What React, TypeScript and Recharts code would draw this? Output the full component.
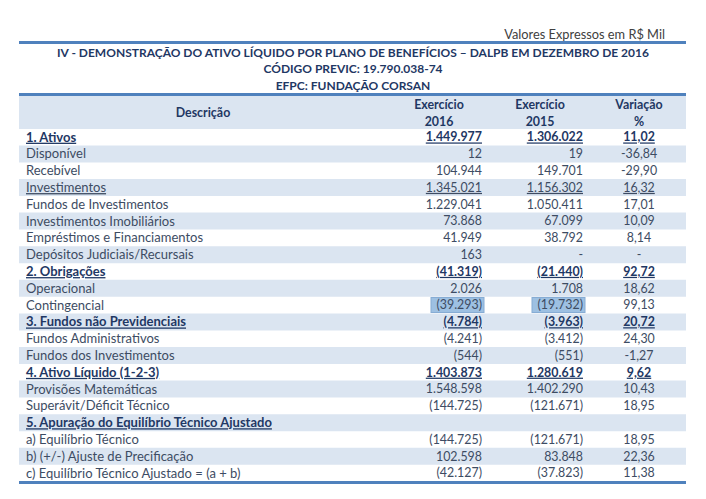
import { BarChart, Bar, XAxis, YAxis } from "recharts";

const ROW_LABELS = [
  "1. Ativos",
  "Disponível",
  "Recebível",
  "Investimentos",
  "Fundos de Investimentos",
  "Investimentos Imobiliários",
  "Empréstimos e Financiamentos",
  "Depósitos Judiciais/Recursais",
  "2. Obrigações",
  "Operacional",
  "Contingencial",
  "3. Fundos não Previdenciais",
  "Fundos Administrativos",
  "Fundos dos Investimentos",
  "4. Ativo Líquido (1-2-3)",
  "Provisões Matemáticas",
  "Superávit/Déficit Técnico",
  "5. Apuração do Equilíbrio Técnico Ajustado",
  "a) Equilíbrio Técnico",
  "b) (+/-) Ajuste de Precificação",
  "c) Equilíbrio Técnico Ajustado = (a + b)",
];

// total = bold + underline, sub = underline, item = plain, section = bold title without values
const ROW_TYPES = [
  "total", "item", "item", "sub", "item", "item", "item", "item",
  "total", "item", "item", "total", "item", "item", "total", "item", "item",
  "section", "item", "item", "item",
];

const VAL_2016 = [
  1449977, 12, 104944, 1345021, 1229041, 73868, 41949, 163,
  -41319, 2026, -39293, -4784, -4241, -544, 1403873, 1548598, -144725,
  null, -144725, 102598, -42127,
];

const VAL_2015 = [
  1306022, 19, 149701, 1156302, 1050411, 67099, 38792, null,
  -21440, 1708, -19732, -3963, -3412, -551, 1280619, 1402290, -121671,
  null, -121671, 83848, -37823,
];

const VARIACAO = [
  11.02, -36.84, -29.9, 16.32, 17.01, 10.09, 8.14, null,
  92.72, 18.62, 99.13, 20.72, 24.3, -1.27, 9.62, 10.43, 18.95,
  null, 18.95, 22.36, 11.38,
];

const HIGHLIGHT_ROW = 10;

const FONT = "Lato, 'Open Sans', sans-serif";
const BLUE_LINE = "#4f81bd";
const BAND = "#dbe5f1";
const DARK = "#1f3864";
const TEXT = "#3d4c63";

const X_DESC = 26;
const X_2016 = 482;
const X_2015 = 583;
const X_VAR = 639;

const rows = ROW_LABELS.map((label, i) => ({
  label,
  shade: i % 2 === 1 ? 1 : 0,
}));

function fmtNum(n: number | null) {
  if (n === null) return "-";
  const s = Math.abs(n).toString().replace(/\B(?=(\d{3})+(?!\d))/g, ".");
  return n < 0 ? `(${s})` : s;
}

function fmtPct(n: number | null) {
  if (n === null) return "-";
  return n.toFixed(2).replace(".", ",");
}

function RowTick(props: any) {
  const { y, payload } = props;
  let i = payload?.index;
  if (i === undefined || ROW_LABELS[i] !== payload?.value) i = ROW_LABELS.indexOf(payload?.value);
  if (i < 0) return null;
  const type = ROW_TYPES[i];
  const bold = type === "total" || type === "section";
  const underline = type !== "item";
  const style: any = {
    fontFamily: FONT,
    fontSize: 13,
    fontWeight: bold ? 700 : 400,
    textDecoration: underline ? "underline" : "none",
  };
  const numStyle = { ...style, fontSize: 12.4 };
  const fill = bold ? DARK : TEXT;
  const showVals = type !== "section";
  return (
    <g>
      {i === HIGHLIGHT_ROW && (
        <>
          <rect x={X_2016 - 51} y={y - 7.5} width={53} height={15} fill="#9dc0e2" stroke="#86acd4" />
          <rect x={X_2015 - 51} y={y - 7.5} width={53} height={15} fill="#9dc0e2" stroke="#86acd4" />
        </>
      )}
      <text x={X_DESC} y={y} dy="0.36em" fill={fill} style={style}>
        {ROW_LABELS[i]}
      </text>
      {showVals && (
        <>
          <text x={X_2016} y={y} dy="0.36em" textAnchor="end" fill={fill} style={numStyle}>
            {fmtNum(VAL_2016[i])}
          </text>
          <text x={X_2015} y={y} dy="0.36em" textAnchor="end" fill={fill} style={numStyle}>
            {fmtNum(VAL_2015[i])}
          </text>
          <text x={X_VAR} y={y} dy="0.36em" textAnchor="middle" fill={fill} style={numStyle}>
            {fmtPct(VARIACAO[i])}
          </text>
        </>
      )}
    </g>
  );
}

const hLine = (top: number) => ({
  position: "absolute" as const,
  left: 19,
  width: 667,
  top,
  height: 3,
  background: BLUE_LINE,
});

const titleStyle = {
  position: "absolute" as const,
  left: 0,
  width: 706,
  textAlign: "center" as const,
  fontFamily: FONT,
  fontWeight: 700,
  fontSize: 12,
  color: DARK,
  lineHeight: "16px",
  whiteSpace: "nowrap" as const,
};

const headStyle = {
  position: "absolute" as const,
  width: 100,
  textAlign: "center" as const,
  fontFamily: FONT,
  fontWeight: 700,
  fontSize: 12.4,
  color: DARK,
  lineHeight: "17px",
};

export default function App() {
  return (
    <div style={{ position: "absolute", left: 0, top: 0, width: 706, height: 499, background: "#fff" }}>
      <BarChart
        width={706}
        height={499}
        data={rows}
        layout="vertical"
        margin={{ top: 128.6, right: 20, bottom: 17.6, left: 17 }}
        barCategoryGap={0}
      >
        <XAxis type="number" domain={[0, 1]} hide />
        <Bar dataKey="shade" fill={BAND} isAnimationActive={false} />
        <YAxis
          type="category"
          dataKey="label"
          width={2}
          interval={0}
          axisLine={false}
          tickLine={false}
          tick={RowTick}
        />
      </BarChart>

      <div
        style={{
          position: "absolute",
          right: 41,
          top: 26,
          fontFamily: FONT,
          fontSize: 12.8,
          color: "#404040",
        }}
      >
        Valores Expressos em R$ Mil
      </div>
      <div style={hLine(41)} />
      <div style={{ ...titleStyle, top: 45 }}>
        IV - DEMONSTRAÇÃO DO ATIVO LÍQUIDO POR PLANO DE BENEFÍCIOS – DALPB EM DEZEMBRO DE 2016
      </div>
      <div style={{ ...titleStyle, top: 61 }}>CÓDIGO PREVIC: 19.790.038-74</div>
      <div style={{ ...titleStyle, top: 78 }}>EFPC: FUNDAÇÃO CORSAN</div>

      <div style={{ position: "absolute", left: 19, width: 667, top: 95, height: 34, background: BAND }} />
      <div style={hLine(93)} />
      <div style={{ ...headStyle, left: 153, top: 104 }}>Descrição</div>
      <div style={{ ...headStyle, left: 389, top: 96 }}>
        Exercício
        <br />
        2016
      </div>
      <div style={{ ...headStyle, left: 490, top: 96 }}>
        Exercício
        <br />
        2015
      </div>
      <div style={{ ...headStyle, left: 589, top: 96 }}>
        Variação
        <br />%
      </div>
      <div style={hLine(481)} />
    </div>
  );
}
